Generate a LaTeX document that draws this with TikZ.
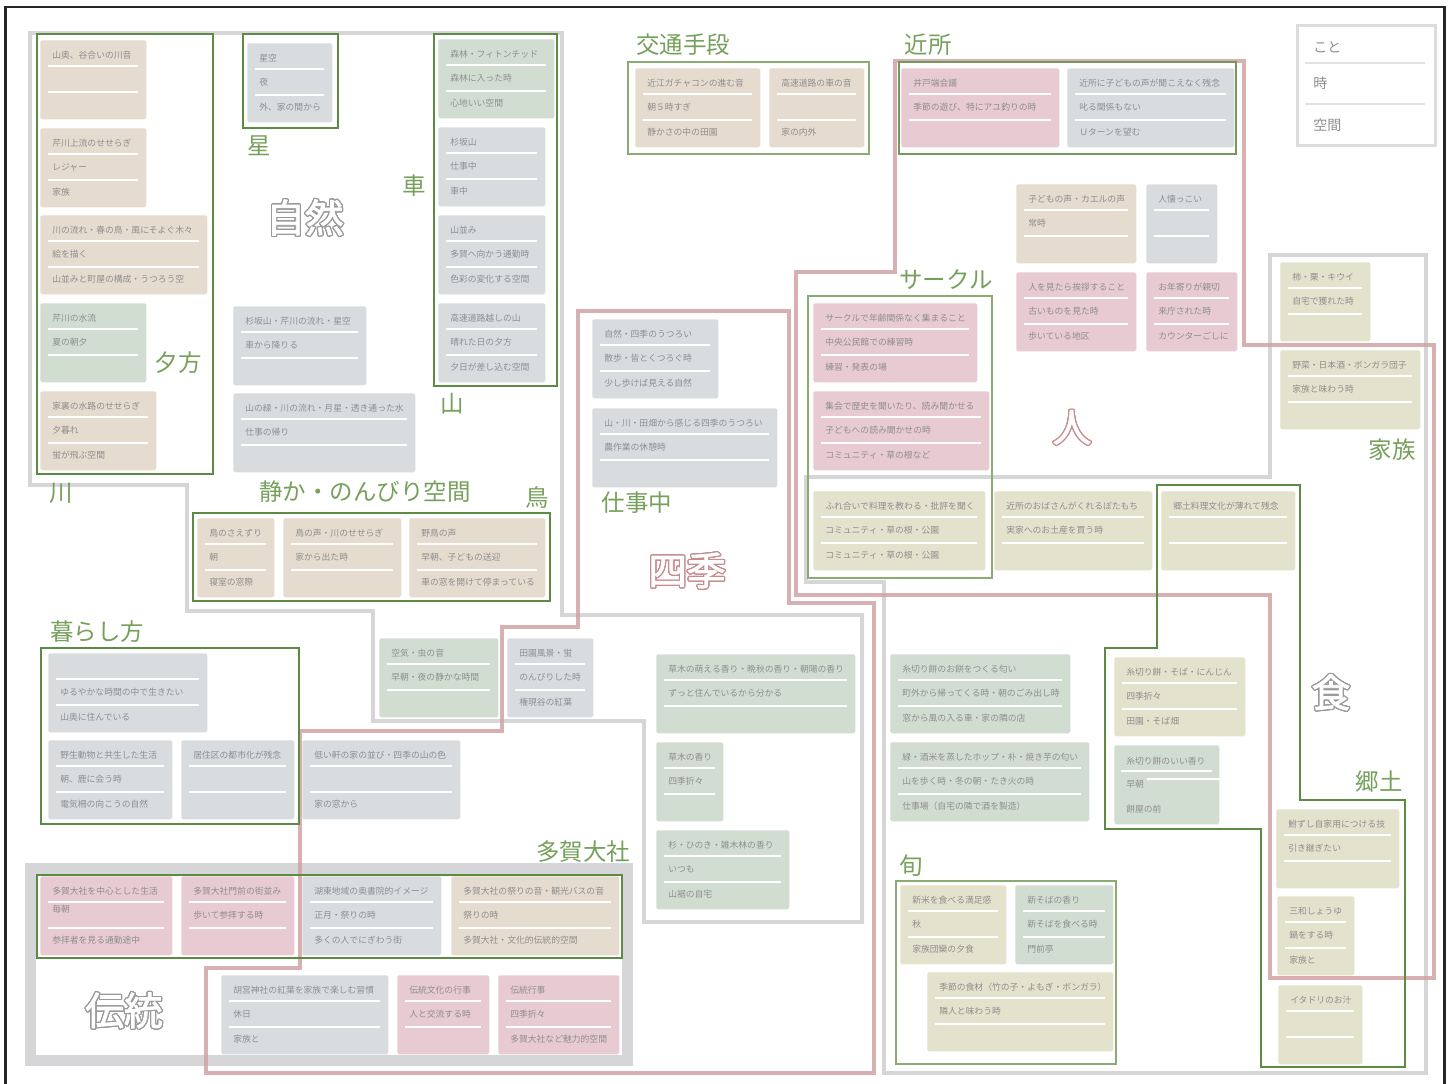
\documentclass[tikz,border=0pt]{standalone}
\usepackage{fontspec}
\setmainfont{Noto Sans CJK JP}
\newfontfamily\heavyjp[FakeBold=2.2]{Noto Sans CJK JP}
\usepackage[copies]{contour}
\contourlength{0.9pt}
\contournumber{24}
\definecolor{cBe}{HTML}{E6DBCF}
\definecolor{cGr}{HTML}{D2DDD2}
\definecolor{cGy}{HTML}{D9DCDF}
\definecolor{cPk}{HTML}{E8CAD2}
\definecolor{cOl}{HTML}{E3E2CD}
\definecolor{txtgray}{HTML}{8E8E8E}
\definecolor{labgreen}{HTML}{76A05B}
\definecolor{frgray}{HTML}{CFCFD2}
\definecolor{frpink}{HTML}{D2A3A4}
\definecolor{dkgreen}{HTML}{5D8B44}
\definecolor{mdgreen}{HTML}{74995C}
\definecolor{ltgreen}{HTML}{8AAC73}
\definecolor{olgray}{HTML}{9A9A9A}
\definecolor{olpink}{HTML}{C78C8E}
\definecolor{lgdgray}{HTML}{DCDCDC}
\definecolor{lgdline}{HTML}{E2E2E2}
\newcommand{\kard}[8]{%
  \node[cardbox, fill=#5, minimum width={(#4-#2)*0.75pt}] (#1) at (#2,#3) {};
  \draw[sepl] ({#2+8},{#3+26}) -- ({#4-8},{#3+26});
  \draw[sepl] ({#2+8},{#3+51.5}) -- ({#4-8},{#3+51.5});
  \node[ctext] (#1a) at ({#2+12},{#3+15}) {#6};
  \node[ctext] (#1b) at ({#2+12},{#3+39}) {#7};
  \node[ctext] (#1c) at ({#2+12},{#3+64}) {#8};
}
\begin{document}
\begin{tikzpicture}[x=0.75pt,y=-0.75pt,
  cardbox/.style={rectangle, rounded corners=1.2pt, inner sep=0pt, minimum height=59.25pt, anchor=north west},
  sepl/.style={draw=white, line width=1.5pt},
  ctext/.style={anchor=west, inner sep=0pt, text=txtgray, font=\fontsize{6.6}{7}\selectfont},
  biglab/.style={inner sep=0pt, text=labgreen, font=\fontsize{17.6}{18}\selectfont},
  outl/.style={inner sep=0pt, text=white, font=\heavyjp\fontsize{29}{30}\selectfont},
  grayframe/.style={draw=frgray, line width=3.6pt, draw opacity=0.85},
  pinkframe/.style={draw=frpink, line width=3.5pt, draw opacity=0.85},
  dgreen/.style={draw=dkgreen, line width=1.9pt},
  mgreen/.style={draw=mdgreen, line width=1.6pt},
  lgreen/.style={draw=ltgreen, line width=1.4pt},
  lgtext/.style={anchor=west, inner sep=0pt, text=txtgray, font=\fontsize{10.5}{11}\selectfont},
]
\useasboundingbox (0,0) rectangle (1453,1083);
\fill[white] (0,0) rectangle (1453,1083);
\draw[line width=1.6pt, draw=black!85] (5.5,1090) -- (5.5,7) -- (1444.5,7) -- (1444.5,1090);

% gray and pink frames
\draw[grayframe] (30,33) -- (562,33) -- (562,615) -- (862,615) -- (862,922) -- (644,922) -- (644,721) -- (373,721) -- (373,611) -- (187,611) -- (187,485) -- (30,485) -- cycle;
\draw[grayframe] (1270,255) -- (1426,255) -- (1426,1073) -- (884,1073) -- (884,582) -- (806,582) -- (806,477) -- (1270,477) -- cycle;
\draw[grayframe, line width=8.25pt] (30.5,868.5) rectangle (627.5,1060.5);
\draw[pinkframe] (578,311) -- (789,311) -- (789,603) -- (874,603) -- (874,1073) -- (206,1073) -- (206,968) -- (300,968) -- (300,731) -- (502,731) -- (502,627) -- (578,627) -- cycle;
\draw[pinkframe] (895,61) -- (1244,61) -- (1244,345) -- (1434,345) -- (1434,978) -- (1270,978) -- (1270,595) -- (796,595) -- (796,272) -- (895,272) -- cycle;

% green frames
\draw[dgreen] (37,34) rectangle (213,474);
\draw[dgreen] (243,34) rectangle (338,128);
\draw[dgreen] (434,34) rectangle (557,386);
\draw[dgreen] (193,513) rectangle (550,601);
\draw[lgreen] (628,62) rectangle (869,154);
\draw[mgreen] (899,62) rectangle (1236,154);
\draw[lgreen] (808,296) rectangle (992,578);
\draw[dgreen] (1157,485) -- (1300,485) -- (1300,800) -- (1405,800) -- (1405,1067) -- (1261,1067) -- (1261,829) -- (1105,829) -- (1105,648) -- (1157,648) -- cycle;
\draw[dgreen] (37,875) rectangle (622,958);
\draw[dgreen] (41,648) rectangle (299,824);
\draw[lgreen] (896,881) rectangle (1116,1064);

% cards
\kard{ca}{40}{40}{146}{cBe}{山奥、谷合いの川音}{}{}
\kard{cb}{40}{128}{146}{cBe}{芹川上流のせせらぎ}{レジャー}{家族}
\kard{cc}{40}{215}{207}{cBe}{川の流れ・春の鳥・風にそよぐ木々}{絵を描く}{山並みと町屋の構成・うつろう空}
\kard{cd}{40}{303}{146}{cGr}{芹川の水流}{夏の朝夕}{}
\kard{ce}{40}{391}{156}{cBe}{家裏の水路のせせらぎ}{夕暮れ}{蛍が飛ぶ空間}
\kard{cf}{247}{43}{332}{cGy}{星空}{夜}{外、家の間から}
\kard{cg}{233}{306}{366}{cGy}{杉坂山・芹川の流れ・星空}{車から降りる}{}
\kard{ch}{233}{393}{415}{cGy}{山の緑・川の流れ・月星・透き通った水}{仕事の帰り}{}
\kard{ci}{438}{39}{554}{cGr}{森林・フィトンチッド}{森林に入った時}{心地いい空間}
\kard{cj}{438}{127}{545}{cGy}{杉坂山}{仕事中}{車中}
\kard{ck}{438}{215}{545}{cGy}{山並み}{多賀へ向かう通勤時}{色彩の変化する空間}
\kard{cl}{438}{303}{545}{cGy}{高速道路越しの山}{晴れた日の夕方}{夕日が差し込む空間}
\kard{cm}{635}{68}{760}{cBe}{近江ガチャコンの進む音}{朝５時すぎ}{静かさの中の田園}
\kard{cn}{769}{68}{864}{cBe}{高速道路の車の音}{}{家の内外}
\kard{co}{901}{68}{1059}{cPk}{井戸端会議}{季節の遊び、特にアユ釣りの時}{}
\kard{cp}{1067}{68}{1234}{cGy}{近所に子どもの声が聞こえなく残念}{叱る関係もない}{Ｕターンを望む}
\kard{cq}{1016}{184}{1136}{cBe}{子どもの声・カエルの声}{常時}{}
\kard{cr}{1146}{184}{1217}{cGy}{人懐っこい}{}{}
\kard{cs}{1016}{272}{1136}{cPk}{人を見たら挨拶すること}{古いものを見た時}{歩いている地区}
\kard{ct}{1146}{272}{1237}{cPk}{お年寄りが親切}{来庁された時}{カウンターごしに}
\kard{cu}{813}{303}{977}{cPk}{サークルで年齢関係なく集まること}{中央公民館での練習時}{練習・発表の場}
\kard{cv}{813}{391}{989}{cPk}{集会で歴史を聞いたり、読み聞かせる}{子どもへの読み聞かせの時}{コミュニティ・草の根など}
\kard{cw}{813}{491}{985}{cOl}{ふれ合いで料理を教わる・批評を聞く}{コミュニティ・草の根・公園}{コミュニティ・草の根・公園}
\kard{cx}{994}{491}{1152}{cOl}{近所のおばさんがくれるぼたもち}{実家へのお土産を買う時}{}
\kard{cy}{1161}{491}{1295}{cOl}{郷土料理文化が薄れて残念}{}{}
\kard{cz}{1280}{262}{1370}{cOl}{柿・栗・キウイ}{自宅で獲れた時}{}
\kard{da}{1280}{350}{1420}{cOl}{野菜・日本酒・ボンガラ団子}{家族と味わう時}{}
\kard{db}{592}{319}{718}{cGy}{自然・四季のうつろい}{散歩・皆とくつろぐ時}{少し歩けば見える自然}
\kard{dc}{592}{408}{777}{cGy}{山・川・田畑から感じる四季のうつろい}{農作業の休憩時}{}
\kard{dd}{197}{518}{274}{cBe}{鳥のさえずり}{朝}{寝室の窓際}
\kard{de}{283}{518}{401}{cBe}{鳥の声・川のせせらぎ}{家から出た時}{}
\kard{df}{409}{518}{545}{cBe}{野鳥の声}{早朝、子どもの送迎}{車の窓を開けて停まっている}
\kard{dg}{379}{638}{498}{cGr}{空気・虫の音}{早朝・夜の静かな時間}{}
\kard{dh}{507}{638}{593}{cGy}{田園風景・蛍}{のんびりした時}{権現谷の紅葉}
\kard{di}{656}{654}{855}{cGr}{草木の萌える香り・晩秋の香り・朝陽の香り}{ずっと住んでいるから分かる}{}
\kard{dj}{656}{742}{723}{cGr}{草木の香り}{四季折々}{}
\kard{dk}{656}{830}{789}{cGr}{杉・ひのき・雑木林の香り}{いつも}{山裾の自宅}
\kard{dl}{48}{653}{207}{cGy}{}{ゆるやかな時間の中で生きたい}{山奥に住んでいる}
\kard{dm}{48}{740}{172}{cGy}{野生動物と共生した生活}{朝、鹿に会う時}{電気柵の向こうの自然}
\kard{dn}{181}{740}{294}{cGy}{居住区の都市化が残念}{}{}
\kard{do}{302}{740}{460}{cGy}{低い軒の家の並び・四季の山の色}{}{家の窓から}
\kard{dp}{40}{876}{172}{cPk}{多賀大社を中心とした生活}{}{参拝者を見る通勤途中}
\node[ctext] (dpm) at (52,909) {毎朝};
\kard{dq}{181}{876}{294}{cPk}{多賀大社門前の街並み}{歩いて参拝する時}{}
\kard{dr}{302}{876}{441}{cGy}{湖東地域の奥書院的イメージ}{正月・祭りの時}{多くの人でにぎわう街}
\kard{ds}{451}{876}{619}{cBe}{多賀大社の祭りの音・観光バスの音}{祭りの時}{多賀大社・文化的伝統的空間}
\kard{dt}{221}{975}{388}{cGy}{胡宮神社の紅葉を家族で楽しむ習慣}{休日}{家族と}
\kard{du}{397}{975}{489}{cPk}{伝統文化の行事}{人と交流する時}{}
\kard{dv}{498}{975}{619}{cPk}{伝統行事}{四季折々}{多賀大社など魅力的空間}
\kard{dw}{890}{654}{1070}{cGr}{糸切り餅のお餅をつくる匂い}{町外から帰ってくる時・朝のごみ出し時}{窓から風の入る車・家の隣の店}
\kard{dx}{890}{742}{1089}{cGr}{緑・酒米を蒸したホップ・朴・焼き芋の匂い}{山を歩く時・冬の朝・たき火の時}{仕事場（自宅の隣で酒を製造）}
\kard{dy}{1114}{657}{1245}{cOl}{糸切り餅・そば・にんじん}{四季折々}{田園・そば畑}
% special card
\node[cardbox, fill=cGr, minimum width={(1219-1114)*0.75pt}] (dz) at (1114,745) {};
\draw[sepl] (1121,771) -- (1212,771);
\draw[sepl] (1147,779) -- (1220,779);
\node[ctext] (dza) at (1126,761) {糸切り餅のいい香り};
\node[ctext] (dzb) at (1126,784) {早朝};
\node[ctext] (dzc) at (1126,809) {餅屋の前};
\kard{ea}{1276}{809}{1399}{cOl}{鮒ずし自家用につける技}{引き継ぎたい}{}
\kard{eb}{1277}{896}{1354}{cOl}{三和しょうゆ}{鍋をする時}{家族と}
\kard{ec}{1278}{985}{1362}{cOl}{イタドリのお汁}{}{}
\kard{ed}{900}{885}{1006}{cOl}{新米を食べる満足感}{秋}{家族団欒の夕食}
\kard{ee}{1015}{885}{1113}{cGr}{新そばの香り}{新そばを食べる時}{門前亭}
\kard{ef}{927}{972}{1113}{cOl}{季節の食材（竹の子・よもぎ・ボンガラ）}{隣人と味わう時}{}

% green labels
\node[biglab] (lHoshi) at (259,146) {星};
\node[biglab] (lKuruma) at (414,186) {車};
\node[biglab] (lYugata) at (178,363) {夕方};
\node[biglab] (lKawa) at (61,493) {川};
\node[biglab] (lYama) at (452,404) {山};
\node[biglab] (lShizuka) at (365,492) {静か・のんびり空間};
\node[biglab] (lTori) at (537,498) {鳥};
\node[biglab] (lShigoto) at (637,503) {仕事中};
\node[biglab] (lKotsu) at (683,45) {交通手段};
\node[biglab] (lKinjo) at (928,45) {近所};
\node[biglab] (lCircle) at (946,280) {サークル};
\node[biglab] (lKazoku) at (1392,450) {家族};
\node[biglab] (lKyodo) at (1379,782) {郷土};
\node[biglab] (lShun) at (911,866) {旬};
\node[biglab] (lKurashi) at (97,632) {暮らし方};
\node[biglab] (lTaga) at (583,852) {多賀大社};

% outlined labels
\node[outl] (oShizen) at (305,218) {\contour{olgray}{自然}};
\node[outl] (oShiki) at (687,571) {\contour{olpink}{四季}};
\node[outl] (oHito) at (1072,428) {\contour{olpink}{人}};
\node[outl] (oShoku) at (1331,693) {\contour{olgray}{食}};
\node[outl] (oDento) at (124,1011) {\contour{olgray}{伝統}};

% legend
\node[draw=lgdgray, line width=2.2pt, minimum width=103.5pt, minimum height=90pt, anchor=north west, inner sep=0pt] (legend) at (1296,24) {};
\draw[draw=lgdline, line width=1.5pt] (1305,63) -- (1425,63);
\draw[draw=lgdline, line width=1.5pt] (1305,104) -- (1425,104);
\node[lgtext] (lgA) at (1313,47) {こと};
\node[lgtext] (lgB) at (1313,83) {時};
\node[lgtext] (lgC) at (1313,125) {空間};
\end{tikzpicture}
\end{document}
